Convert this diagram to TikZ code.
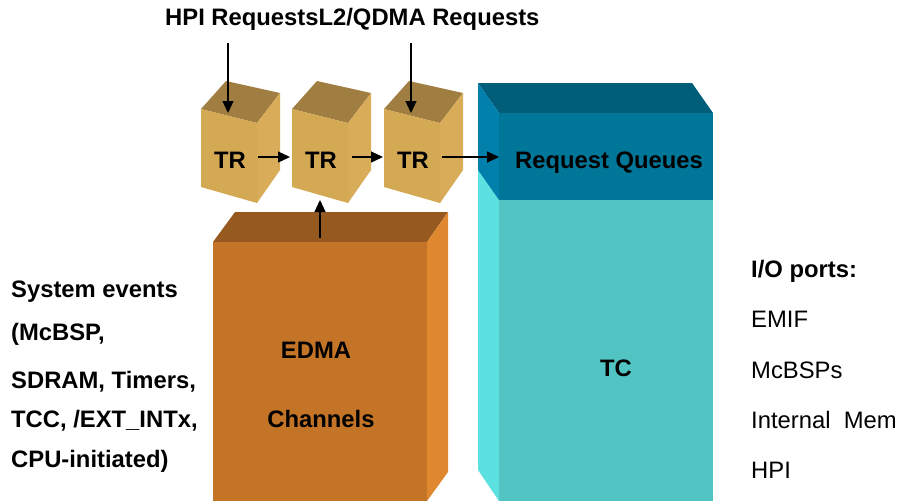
\documentclass[tikz,border=0pt]{standalone}
\usepackage{fontspec}
\setmainfont{Liberation Sans}
\usetikzlibrary{arrows.meta}
\definecolor{trfront}{RGB}{212,169,84}
\definecolor{trtop}{RGB}{160,125,64}
\definecolor{trside}{RGB}{216,172,88}
\definecolor{edfront}{RGB}{196,116,38}
\definecolor{edtop}{RGB}{150,90,32}
\definecolor{edside}{RGB}{224,136,48}
\definecolor{tctop}{RGB}{0,94,122}
\definecolor{rqfront}{RGB}{0,118,153}
\definecolor{rqside}{RGB}{0,128,170}
\definecolor{tcfront}{RGB}{82,196,196}
\definecolor{tcside}{RGB}{92,224,224}
\tikzset{
  lbl/.style={font=\fontsize{23.8}{28}\selectfont\bfseries, inner sep=0pt},
  reg/.style={font=\fontsize{23.8}{28}\selectfont, inner sep=0pt},
  arr/.style={line width=1.3pt, -{Triangle[length=12pt,width=11pt]}}
}
\begin{document}
\begin{tikzpicture}[x=1pt,y=-1pt]
\useasboundingbox (0,0) rectangle (904,501);
\fill[white] (0,0) rectangle (904,501);
% EDMA box
\fill[edtop] (213,242) -- (235,212) -- (448,212) -- (427,242) -- cycle;
\fill[edside] (427,242) -- (448,212) -- (448,472) -- (427,501) -- cycle;
\fill[edfront] (213,242) rectangle (427,501);
% TC box
\fill[tctop] (478,83) -- (692,83) -- (713,113) -- (499,113) -- cycle;
\fill[tcside] (478,170) -- (499,200) -- (499,501) -- (478,470) -- cycle;
\fill[rqside] (478,83) -- (499,113) -- (499,200) -- (478,170) -- cycle;
\fill[rqfront] (499,113) rectangle (713,200);
\fill[tcfront] (499,200) rectangle (713,501);
% TR boxes
\foreach \d/\n in {0/tra,91/trb,183/trc}{
  \fill[trtop] (201+\d,109) -- (226+\d,81) -- (280+\d,93) -- (257+\d,123) -- cycle;
  \fill[trside] (257+\d,123) -- (280+\d,93) -- (280+\d,170) -- (257+\d,203) -- cycle;
  \fill[trfront] (201+\d,109) -- (257+\d,123) -- (257+\d,203) -- (201+\d,187) -- cycle;
  \node[lbl, anchor=base] (\n) at (230+\d,168) {TR};
}
% labels
\node[lbl, anchor=base west] (req) at (165,25) {HPI RequestsL2/QDMA Requests};
\node[lbl, anchor=base] (rq) at (609,168) {Request Queues};
\node[lbl, anchor=base] (tc) at (616,376) {TC};
\node[lbl, anchor=base] (edma) at (316,358) {EDMA};
\node[lbl, anchor=base] (chan) at (321,427) {Channels};
\node[lbl, anchor=base west] (s1) at (11,297) {System events};
\node[lbl, anchor=base west] (s2) at (11,340) {(McBSP,};
\node[lbl, anchor=base west] (s3) at (11,388) {SDRAM, Timers,};
\node[lbl, anchor=base west] (s4) at (11,427) {TCC, /EXT\_INTx,};
\node[lbl, anchor=base west] (s5) at (11,467) {CPU-initiated)};
\node[lbl, anchor=base west] (io) at (751,277) {I/O ports:};
\node[reg, anchor=base west] (p1) at (751,327) {EMIF};
\node[reg, anchor=base west] (p2) at (751,378) {McBSPs};
\node[reg, anchor=base west] (p3) at (751,428) {Internal~~Mem};
\node[reg, anchor=base west] (p4) at (751,478) {HPI};
% connectors
\coordinate (hpis) at (228,43);
\coordinate (hpie) at (228,113);
\coordinate (l2s) at (411,43);
\coordinate (l2e) at (411,113);
\coordinate (eds) at (320,238);
\coordinate (ede) at (320,200);
\coordinate (a1s) at (258,157);
\coordinate (a1e) at (290,157);
\coordinate (a2s) at (352,157);
\coordinate (a2e) at (383,157);
\coordinate (a3s) at (442,157);
\coordinate (a3e) at (499,157);
\draw[arr] (hpis) -- (hpie);
\draw[arr] (l2s) -- (l2e);
\draw[arr] (eds) -- (ede);
\draw[arr] (a1s) -- (a1e);
\draw[arr] (a2s) -- (a2e);
\draw[arr] (a3s) -- (a3e);
\end{tikzpicture}
\end{document}
